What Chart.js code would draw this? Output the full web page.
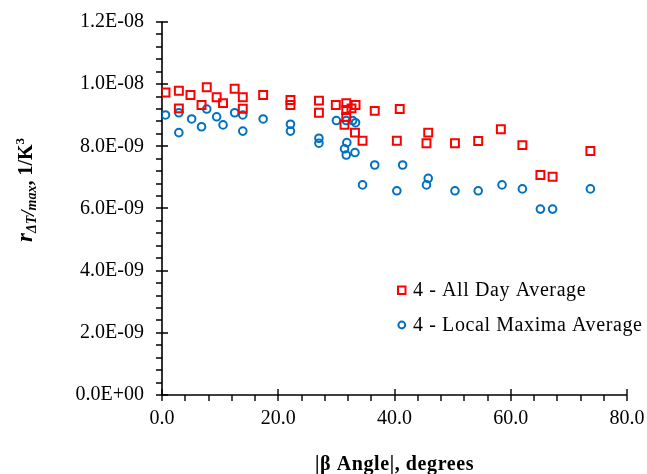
<!DOCTYPE html>
<html><head><meta charset="utf-8">
<script src="https://cdn.jsdelivr.net/npm/chart.js@4"></script>
<style>html,body{margin:0;padding:0;background:#fff}#wrap{width:647px;height:474px;position:relative}</style>
</head><body><div id="wrap"><canvas id="c" width="647" height="474"></canvas></div>
<script>
// ---- data (y values in units of 1E-09 1/K^3) ----
const allDayX = [0.6, 2.9, 2.9, 4.9, 6.8, 7.7, 9.4, 10.5, 12.5, 13.9, 13.9, 17.4, 22.1, 22.1, 27.0, 27.0, 29.9, 31.7, 33.3, 32.6, 31.7, 31.7, 31.4, 33.2, 34.5, 36.6, 40.4, 40.9, 45.8, 45.5, 50.4, 54.4, 58.3, 62.0, 65.1, 67.2, 73.7];
const allDayY = [9.73, 9.79, 9.22, 9.65, 9.33, 9.90, 9.58, 9.39, 9.85, 9.58, 9.21, 9.65, 9.49, 9.33, 9.47, 9.08, 9.33, 9.39, 9.33, 9.22, 9.17, 8.95, 8.69, 8.44, 8.18, 9.14, 8.18, 9.20, 8.44, 8.10, 8.10, 8.17, 8.55, 8.04, 7.08, 7.02, 7.85];
const localMaxX = [0.6, 2.9, 2.9, 5.1, 6.8, 7.7, 9.4, 10.5, 12.5, 13.9, 13.9, 17.4, 22.1, 22.1, 27.0, 27.0, 30.0, 31.7, 32.8, 33.3, 31.8, 31.4, 31.7, 33.2, 34.5, 36.6, 40.4, 41.4, 45.8, 45.5, 50.4, 54.4, 58.5, 62.0, 65.1, 67.2, 73.7];
const localMaxY = [9.01, 9.08, 8.44, 8.88, 8.63, 9.20, 8.95, 8.69, 9.08, 9.01, 8.49, 8.88, 8.71, 8.49, 8.26, 8.10, 8.83, 8.83, 8.83, 8.76, 8.12, 7.92, 7.72, 7.80, 6.76, 7.40, 6.57, 7.40, 6.97, 6.76, 6.57, 6.57, 6.76, 6.63, 5.98, 5.98, 6.63];
const yUnit = 1e-9;
const seriesNames = ['4 - All Day Average', '4 - Local Maxima Average'];
const xTickValues = [0, 20, 40, 60, 80];
const yTickValues = [0, 2e-9, 4e-9, 6e-9, 8e-9, 1e-8, 1.2e-8];
const xMinorStep = 4;
const yMinorStep = 0.4e-9;
const xTitle = '|\u03B2 Angle|, degrees';
const yTitleParts = ['r', '\u0394T', '/', 'max', ', 1/K', '3'];

const RED = '#FF0000', BLUE = '#0070C0';
const FONT = '"Liberation Serif", "Times New Roman", serif';

function sci(v) {
  if (Math.abs(v) < 1e-20) return '0.0E+00';
  const e = Math.floor(Math.log10(Math.abs(v)) + 1e-9);
  const m = v / Math.pow(10, e);
  return m.toFixed(1) + 'E' + (e < 0 ? '-' : '+') + String(Math.abs(e)).padStart(2, '0');
}

const pts = (xs, ys) => xs.map((x, i) => ({ x: x, y: ys[i] * yUnit }));

const decor = {
  id: 'decor',
  beforeDatasetsDraw(chart) {
    const ctx = chart.ctx, a = chart.chartArea;
    const xs = chart.scales.x, ys = chart.scales.y;
    ctx.save();
    ctx.strokeStyle = '#000';
    ctx.lineWidth = 1.6;
    ctx.beginPath();
    ctx.moveTo(a.left, a.top - 0.5); ctx.lineTo(a.left, a.bottom);
    ctx.lineTo(a.right, a.bottom);
    ctx.stroke();
    ctx.lineWidth = 1.4;
    ctx.beginPath();
    for (let v = 0; v <= 1.2e-8 + 1e-12; v += yMinorStep) {
      const p = Math.round(ys.getPixelForValue(v));
      const major = yTickValues.some(t => Math.abs(t - v) < 1e-12);
      ctx.moveTo(a.left - 6, p);
      ctx.lineTo(major ? a.left + 6 : a.left, p);
    }
    for (let v = 0; v <= 80 + 1e-9; v += xMinorStep) {
      const p = Math.round(xs.getPixelForValue(v));
      const major = xTickValues.includes(v);
      ctx.moveTo(p, a.bottom + 6);
      ctx.lineTo(p, major ? a.bottom - 6 : a.bottom);
    }
    ctx.stroke();
    ctx.restore();
  },
  afterDraw(chart) {
    const ctx = chart.ctx, a = chart.chartArea;
    ctx.save();
    ctx.fillStyle = '#000';
    // x title
    ctx.font = 'bold 20px ' + FONT;
    try { ctx.letterSpacing = '0.6px'; } catch (e) {}
    ctx.textAlign = 'center';
    ctx.textBaseline = 'middle';
    ctx.fillText(xTitle, (a.left + a.right) / 2, 465);
    try { ctx.letterSpacing = '0px'; } catch (e) {}
    // y title (rotated, rich text)
    const parts = [
      { t: yTitleParts[0], f: 'bold italic 23px ' + FONT, dy: 0 },
      { t: yTitleParts[1], f: 'bold italic 14px ' + FONT, dy: 4 },
      { t: yTitleParts[2], f: 'bold italic 19px ' + FONT, dy: 2 },
      { t: yTitleParts[3], f: 'bold italic 14px ' + FONT, dy: 4 },
      { t: yTitleParts[4], f: 'bold 20px ' + FONT, dy: 0 },
      { t: yTitleParts[5], f: 'bold 13px ' + FONT, dy: -8 }
    ];
    let total = 0;
    parts.forEach(p => { ctx.font = p.f; p.w = ctx.measureText(p.t).width; total += p.w; });
    ctx.translate(32, 190 + total / 2);
    ctx.rotate(-Math.PI / 2);
    ctx.textAlign = 'left';
    ctx.textBaseline = 'alphabetic';
    let x = 0;
    parts.forEach(p => { ctx.font = p.f; ctx.fillText(p.t, x, p.dy); x += p.w; });
    ctx.restore();

    // legend
    ctx.save();
    ctx.font = '20px ' + FONT;
    try { ctx.letterSpacing = '0.6px'; } catch (e) {}
    ctx.textBaseline = 'middle';
    ctx.fillStyle = '#000';
    ctx.lineWidth = 2;
    ctx.strokeStyle = RED;
    ctx.strokeRect(398, 286.5, 7.5, 7.5);
    ctx.fillText(seriesNames[0], 413, 290.5);
    ctx.strokeStyle = BLUE;
    ctx.beginPath(); ctx.arc(401.8, 325, 3.4, 0, Math.PI * 2); ctx.stroke();
    ctx.fillText(seriesNames[1], 413, 325.5);
    try { ctx.letterSpacing = '0px'; } catch (e) {}
    ctx.restore();
  }
};

new Chart(document.getElementById('c'), {
  type: 'scatter',
  data: {
    datasets: [
      { label: seriesNames[0], data: pts(allDayX, allDayY), pointStyle: 'rect', pointRadius: 5.6, pointBorderWidth: 2,
        borderColor: RED, backgroundColor: 'rgba(0,0,0,0)', pointHoverRadius: 5.6 },
      { label: seriesNames[1], data: pts(localMaxX, localMaxY), pointStyle: 'circle', pointRadius: 3.8, pointBorderWidth: 2,
        borderColor: BLUE, backgroundColor: 'rgba(0,0,0,0)', pointHoverRadius: 3.8 }
    ]
  },
  options: {
    responsive: false,
    animation: false,
    devicePixelRatio: 1,
    layout: { padding: { top: 22, right: 20, left: 0, bottom: 0 } },
    plugins: { legend: { display: false }, tooltip: { enabled: false } },
    scales: {
      x: {
        type: 'linear', position: 'bottom', min: 0, max: 80,
        grid: { display: false, drawTicks: false }, border: { display: false },
        afterBuildTicks: s => { s.ticks = xTickValues.map(v => ({ value: v })); },
        afterFit: s => { s.height = 79; s.paddingLeft = 0; s.paddingRight = 0; },
        ticks: { color: '#000', font: { family: FONT, size: 20 }, padding: 12, maxRotation: 0,
          callback: v => Number(v).toFixed(1) }
      },
      y: {
        type: 'linear', position: 'left', min: 0, max: 1.2e-8,
        grid: { display: false, drawTicks: false }, border: { display: false },
        afterBuildTicks: s => { s.ticks = yTickValues.map(v => ({ value: v })); },
        afterFit: s => { s.width = 162; s.paddingTop = 0; s.paddingBottom = 0; },
        ticks: { color: '#000', font: { family: FONT, size: 20 }, padding: 18,
          callback: v => sci(v) }
      }
    }
  },
  plugins: [decor]
});
</script>
</body></html>
